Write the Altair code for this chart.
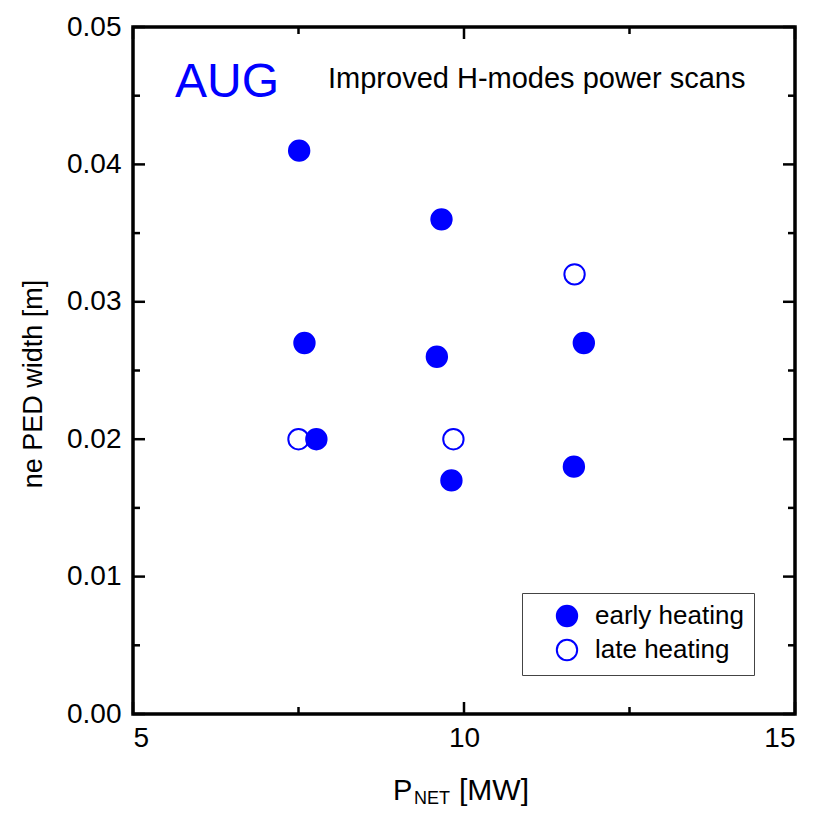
import altair as alt
import pandas as pd

# data
p_net = [7.51, 9.66, 11.67, 7.59, 9.59, 11.81, 7.50, 7.77, 9.84, 9.81, 11.66]
ped_width = [0.041, 0.036, 0.032, 0.027, 0.026, 0.027, 0.020, 0.020, 0.020, 0.017, 0.018]
heating = ["early heating", "early heating", "late heating", "early heating", "early heating",
           "early heating", "late heating", "early heating", "late heating", "early heating",
           "early heating"]

x_major = [5, 10, 15]
x_minor = [7.5, 12.5]
y_major = [0.0, 0.01, 0.02, 0.03, 0.04, 0.05]
y_minor = [0.005, 0.015, 0.025, 0.035, 0.045]

W, H = 662, 687
FONT = "Liberation Sans"
BLUE = "#0000ff"

df = pd.DataFrame({"P": p_net, "w": ped_width, "heating": heating})
# draw open (late) circles first so filled ones sit on top
df["order"] = (df["heating"] == "early heating").astype(int)
df = df.sort_values("order", kind="stable")

xs = alt.Scale(domain=[5, 15], nice=False, zero=False)
ys = alt.Scale(domain=[0, 0.05], nice=False, zero=False)

points = alt.Chart(df).mark_point(
    shape="circle", size=415, stroke=BLUE, strokeWidth=2, opacity=1, fillOpacity=1
).encode(
    x=alt.X("P:Q", scale=xs,
            axis=alt.Axis(values=x_major, format="d", ticks=False, domain=False, grid=False,
                          labelFont=FONT, labelFontSize=28, labelColor="black",
                          labelPadding=10, title=None)),
    y=alt.Y("w:Q", scale=ys,
            axis=alt.Axis(values=y_major, format=".2f", ticks=False, domain=False, grid=False,
                          labelFont=FONT, labelFontSize=28, labelColor="black",
                          labelPadding=12, title=None)),
    fill=alt.Fill("heating:N",
                  scale=alt.Scale(domain=["early heating", "late heating"], range=[BLUE, "white"]),
                  legend=alt.Legend(title=None, orient="none", legendX=389, legendY=566,
                                    padding=10, symbolOffset=22, labelOffset=15,
                                    strokeColor="#444444", fillColor="white",
                                    labelFont=FONT, labelFontSize=26, labelColor="black",
                                    symbolSize=415, symbolType="circle",
                                    symbolStrokeColor=BLUE, symbolStrokeWidth=2,
                                    rowPadding=4, labelLimit=400)),
    order=alt.Order("order:Q"),
)

def xticks(vals, length):
    d = pd.DataFrame({"v": vals})
    bottom = alt.Chart(d).mark_rule(color="black", strokeWidth=2.5).encode(
        x=alt.X("v:Q", scale=xs), y=alt.value(H), y2=alt.value(H - length))
    top = alt.Chart(d).mark_rule(color="black", strokeWidth=2.5).encode(
        x=alt.X("v:Q", scale=xs), y=alt.value(0), y2=alt.value(length))
    return bottom + top

def yticks(vals, length):
    d = pd.DataFrame({"v": vals})
    left = alt.Chart(d).mark_rule(color="black", strokeWidth=2.5).encode(
        y=alt.Y("v:Q", scale=ys), x=alt.value(0), x2=alt.value(length))
    right = alt.Chart(d).mark_rule(color="black", strokeWidth=2.5).encode(
        y=alt.Y("v:Q", scale=ys), x=alt.value(W), x2=alt.value(W - length))
    return left + right

ticks = xticks(x_major, 12) + xticks(x_minor, 7) + yticks(y_major, 12) + yticks(y_minor, 7)

def label(text, x, y, size, color="black", angle=0, align="left", baseline="alphabetic"):
    return alt.Chart(pd.DataFrame({"t": [text]})).mark_text(
        font=FONT, fontSize=size, color=color, angle=angle, align=align, baseline=baseline
    ).encode(text="t:N", x=alt.value(x), y=alt.value(y))

texts = (
    label("AUG", 42, 70, 48, color=BLUE)
    + label("Improved H-modes power scans", 195, 61, 29)
    + label("P", 260, 773, 29)
    + label("NET", 281, 777, 18)
    + label("[MW]", 326, 773, 30)
    + label("ne PED width [m]", -91, 357, 27, angle=270, align="center")
)

chart = alt.layer(ticks, points, texts).properties(
    width=W, height=H,
    padding={"left": 125, "top": 19, "right": 11, "bottom": 96},
    autosize=alt.AutoSizeParams(type="none"),
    background="white",
).configure_view(stroke="black", strokeWidth=3.5)

chart.save("out.html", embed_options={"renderer": "svg", "actions": False})
